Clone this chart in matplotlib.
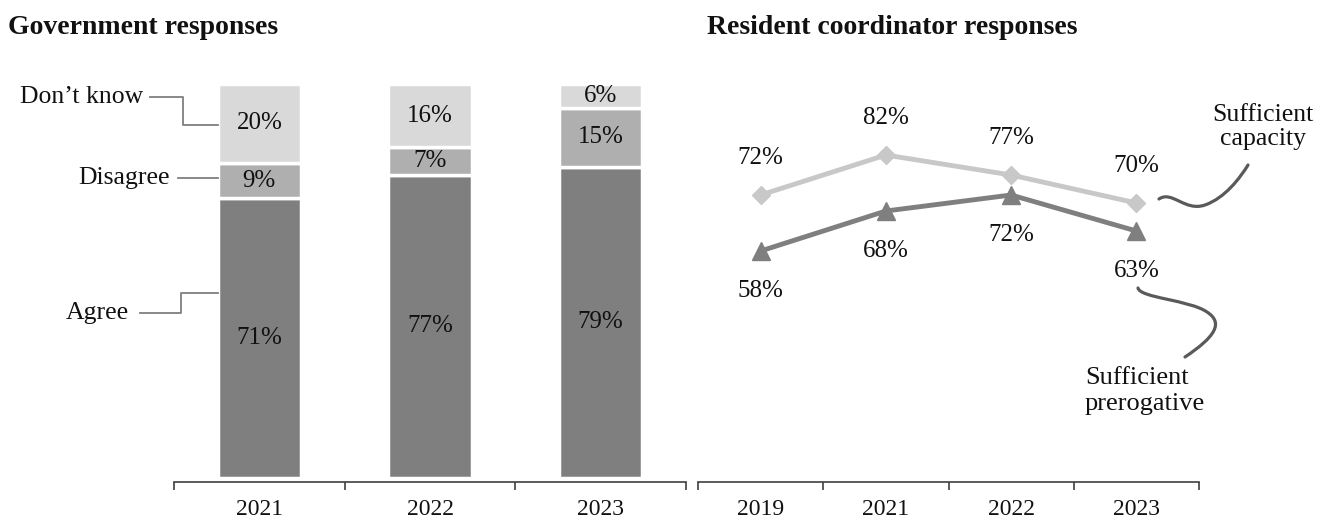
#!/usr/bin/env python3

import numpy as np
import matplotlib.pyplot as plt
from matplotlib.lines import Line2D
from matplotlib.path import Path
from matplotlib.patches import PathPatch

# government responses (stacked bars)
gov_years = ["2021", "2022", "2023"]
agree = [71, 77, 79]
disagree = [9, 7, 15]
dont_know = [20, 16, 6]

# resident coordinator responses (lines)
rc_years = ["2019", "2021", "2022", "2023"]
capacity = [72, 82, 77, 70]
prerogative = [58, 68, 72, 63]

W, H = 1325, 520
plt.rcParams['font.family'] = ['Liberation Serif', 'DejaVu Serif']

fig = plt.figure(figsize=(W / 100, H / 100), dpi=100)

def px(x, y):
    return x / W, 1 - y / H

def make_axes(x0, x1, y0=84, y1=482):
    return fig.add_axes([x0 / W, 1 - y1 / H, (x1 - x0) / W, (y1 - y0) / H])

def style_axis(ax, n, labels):
    for s in ["left", "right", "top"]:
        ax.spines[s].set_visible(False)
    ax.spines["bottom"].set_color("#404040")
    ax.spines["bottom"].set_linewidth(1.2)
    ax.set_yticks([])
    ax.set_xlim(-0.5, n - 0.5)
    ax.set_xticks(np.arange(n))
    ax.set_xticklabels(labels, fontsize=17, color="#111111")
    ax.tick_params(axis="x", which="major", length=0, pad=12)
    ax.set_xticks(np.arange(n + 1) - 0.5, minor=True)
    ax.tick_params(axis="x", which="minor", length=6, width=1.2, color="#404040", direction="out")

c_agree, c_dis, c_dk = "#7f7f7f", "#afafaf", "#d9d9d9"
fs = 18

# left panel
ax1 = make_axes(174, 686)
style_axis(ax1, 3, gov_years)
ax1.set_ylim(-1, 100)
x = np.arange(3)
bw = 0.49
ax1.bar(x, agree, bw, color=c_agree, edgecolor="white", linewidth=2.5)
ax1.bar(x, disagree, bw, bottom=agree, color=c_dis, edgecolor="white", linewidth=2.5)
bot3 = np.array(agree) + np.array(disagree)
ax1.bar(x, dont_know, bw, bottom=bot3, color=c_dk, edgecolor="white", linewidth=2.5)
for i in range(3):
    ax1.text(x[i], agree[i] / 2, f"{agree[i]}%", ha="center", va="center", fontsize=fs, color="#111111")
    ax1.text(x[i], agree[i] + disagree[i] / 2, f"{disagree[i]}%", ha="center", va="center", fontsize=fs, color="#111111")
    ax1.text(x[i], bot3[i] + dont_know[i] / 2, f"{dont_know[i]}%", ha="center", va="center", fontsize=fs, color="#111111")

# category labels with elbow connectors (pixel coords)
conn = "#7f7f7f"
def conn_line(pts):
    xs = [px(a, b)[0] for a, b in pts]
    ys = [px(a, b)[1] for a, b in pts]
    fig.add_artist(Line2D(xs, ys, color=conn, lw=1.3))

fig.text(*px(143, 97), "Don\u2019t know", ha="right", va="center", fontsize=18.5, color="#111111")
conn_line([(150, 97), (183, 97), (183, 125), (218, 125)])
fig.text(*px(170, 178), "Disagree", ha="right", va="center", fontsize=18.5, color="#111111")
conn_line([(178, 178), (218, 178)])
fig.text(*px(129, 313), "Agree", ha="right", va="center", fontsize=18.5, color="#111111")
conn_line([(140, 313), (181, 313), (181, 293), (218, 293)])

# right panel
ax2 = make_axes(698, 1199)
style_axis(ax2, 4, rc_years)
ax2.set_ylim(0.25, 99.75)
xr = np.arange(4)
ax2.plot(xr, capacity, color="#c8c8c8", lw=3.5, marker="D", ms=9, zorder=3)
ax2.plot(xr, prerogative, color="#7f7f7f", lw=3.5, marker="^", ms=13, zorder=3)
for i in range(4):
    ax2.annotate(f"{capacity[i]}%", (xr[i], capacity[i]), xytext=(0, 27), textcoords="offset points",
                 ha="center", va="center", fontsize=fs, color="#111111", annotation_clip=False)
    ax2.annotate(f"{prerogative[i]}%", (xr[i], prerogative[i]), xytext=(0, -29), textcoords="offset points",
                 ha="center", va="center", fontsize=fs, color="#111111", annotation_clip=False)

fig.text(*px(1263, 127), "Sufficient\ncapacity", ha="center", va="center", fontsize=18.5,
         color="#111111", linespacing=1.1, multialignment="center")
fig.text(*px(1085, 391), "Sufficient\nprerogative", ha="left", va="center", fontsize=19,
         color="#111111", linespacing=1.22)

def curl(pts):
    verts = [px(a, b) for a, b in pts]
    codes = [Path.MOVETO] + [Path.CURVE4] * (len(verts) - 1)
    fig.add_artist(PathPatch(Path(verts, codes), fill=False, edgecolor="#5a5a5a", lw=2.3,
                             transform=fig.transFigure, capstyle="round"))

curl([(1159, 199), (1172, 190), (1185, 212), (1205, 205),
      (1225, 198), (1240, 178), (1248, 165)])
curl([(1138, 288), (1140, 298), (1190, 300), (1207, 312),
      (1224, 323), (1215, 337), (1185, 357)])

# titles
fig.text(*px(8, 28), "Government responses", ha="left", va="center", fontsize=20,
         fontweight="bold", color="#111111")
fig.text(*px(707, 28), "Resident coordinator responses", ha="left", va="center", fontsize=20,
         fontweight="bold", color="#111111")

fig.savefig("out.png", dpi=100)
